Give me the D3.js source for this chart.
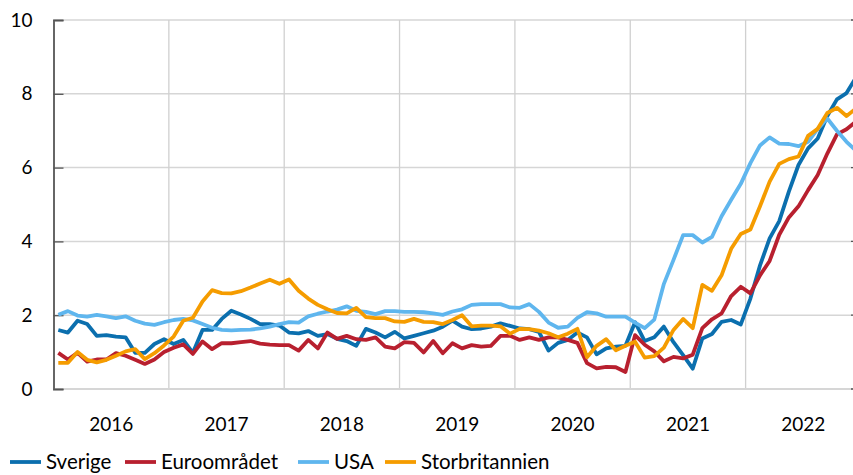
<!DOCTYPE html>
<html>
<head>
<meta charset="utf-8">
<script src="https://cdn.jsdelivr.net/npm/d3@7"></script>
<style>
  html, body { margin: 0; padding: 0; background: #fff; }
  svg { display: block; }
  text { font-family: Lato, "Open Sans", sans-serif; fill: #000; }
</style>
</head>
<body>
<svg id="chart" width="853" height="475"></svg>
<script>
// ---- data (monthly, Jan 2016 - Dec 2022) ----
const years = ["2016", "2017", "2018", "2019", "2020", "2021", "2022"];
const monthsPerYear = 12;
const months = [];
years.forEach(yr => { for (let m = 1; m <= monthsPerYear; m++) months.push(yr + "-" + String(m).padStart(2, "0")); });

const seriesNames = ["Sverige", "Euroområdet", "USA", "Storbritannien"];
const seriesColors = ["#0b6fae", "#b8202f", "#5fb6ee", "#f59c00"];

const sverige = [
  1.60, 1.53, 1.85, 1.76, 1.44, 1.46, 1.42, 1.40, 0.98, 0.98, 1.22, 1.35,
  1.22, 1.33, 0.98, 1.60, 1.60, 1.90, 2.12, 2.02, 1.90, 1.76, 1.76, 1.72,
  1.53, 1.51, 1.57, 1.44, 1.49, 1.36, 1.30, 1.17, 1.63, 1.53, 1.40, 1.55,
  1.37, 1.44, 1.51, 1.58, 1.69, 1.85, 1.69, 1.62, 1.64, 1.69, 1.78, 1.71,
  1.64, 1.62, 1.55, 1.04, 1.25, 1.33, 1.53, 1.40, 0.94, 1.10, 1.15, 1.17,
  1.81, 1.30, 1.40, 1.69, 1.27, 0.92, 0.55, 1.37, 1.49, 1.82, 1.87, 1.75,
  2.45, 3.35, 4.08, 4.55, 5.35, 6.07, 6.52, 6.79, 7.40, 7.85, 8.02, 8.45
];
const euroomradet = [
  0.98, 0.80, 0.98, 0.74, 0.80, 0.80, 0.97, 0.90, 0.79, 0.68, 0.80, 1.00,
  1.12, 1.21, 0.95, 1.29, 1.08, 1.24, 1.24, 1.27, 1.30, 1.23, 1.20, 1.19,
  1.19, 1.04, 1.33, 1.10, 1.53, 1.36, 1.44, 1.35, 1.33, 1.40, 1.15, 1.10,
  1.27, 1.25, 0.99, 1.30, 0.97, 1.24, 1.10, 1.19, 1.15, 1.17, 1.44, 1.44,
  1.33, 1.40, 1.33, 1.40, 1.40, 1.33, 1.25, 0.70, 0.56, 0.60, 0.59, 0.46,
  1.46, 1.20, 1.02, 0.75, 0.87, 0.83, 0.93, 1.65, 1.89, 2.05, 2.52, 2.77,
  2.59, 3.08, 3.47, 4.18, 4.65, 4.95, 5.39, 5.80, 6.38, 6.90, 7.04, 7.25
];
const usa = [
  2.01, 2.11, 1.99, 1.96, 2.01, 1.97, 1.92, 1.97, 1.85, 1.77, 1.74, 1.81,
  1.87, 1.90, 1.86, 1.76, 1.66, 1.60, 1.59, 1.60, 1.61, 1.64, 1.69, 1.76,
  1.81, 1.80, 1.97, 2.04, 2.10, 2.15, 2.24, 2.12, 2.09, 2.03, 2.11, 2.11,
  2.09, 2.09, 2.08, 2.05, 2.01, 2.10, 2.16, 2.28, 2.30, 2.30, 2.30, 2.21,
  2.20, 2.30, 2.09, 1.80, 1.66, 1.69, 1.93, 2.08, 2.05, 1.96, 1.96, 1.96,
  1.80, 1.65, 1.88, 2.85, 3.50, 4.17, 4.17, 3.97, 4.12, 4.68, 5.13, 5.56,
  6.12, 6.60, 6.82, 6.65, 6.64, 6.58, 6.70, 7.05, 7.33, 7.00, 6.70, 6.45
];
const storbritannien = [
  0.71, 0.71, 1.00, 0.79, 0.72, 0.79, 0.90, 1.02, 1.08, 0.81, 0.97, 1.18,
  1.42, 1.85, 1.93, 2.37, 2.68, 2.60, 2.59, 2.65, 2.75, 2.86, 2.96, 2.85,
  2.97, 2.66, 2.45, 2.28, 2.16, 2.06, 2.05, 2.20, 1.95, 1.92, 1.92, 1.83,
  1.82, 1.90, 1.82, 1.81, 1.76, 1.87, 2.00, 1.70, 1.72, 1.72, 1.70, 1.50,
  1.63, 1.62, 1.58, 1.51, 1.40, 1.50, 1.63, 0.86, 1.17, 1.35, 1.05, 1.17,
  1.28, 0.85, 0.89, 1.12, 1.60, 1.90, 1.65, 2.82, 2.66, 3.08, 3.80, 4.20,
  4.32, 4.95, 5.62, 6.10, 6.23, 6.30, 6.86, 7.05, 7.48, 7.62, 7.40, 7.60
];
const seriesValues = [sverige, euroomradet, usa, storbritannien];
const yTicks = [0, 2, 4, 6, 8, 10];

// ---- layout ----
const svg = d3.select("#chart");
const plotLeft = 53.5, plotTop = 20, plotBottom = 389;
const yearWidth = 115.35;
const plotRight = plotLeft + yearWidth * years.length;

const x = d3.scaleBand().domain(months).range([plotLeft, plotRight]).padding(0);
const y = d3.scaleLinear().domain([0, 10]).range([plotBottom, plotTop]);
const cx = m => x(m) + x.bandwidth() / 2;

// horizontal gridlines
svg.append("g").selectAll("line").data(yTicks.filter(t => t > 0)).join("line")
  .attr("x1", plotLeft).attr("x2", 853)
  .attr("y1", d => y(d)).attr("y2", d => y(d))
  .attr("stroke", "#d6d6d6").attr("stroke-width", 1.5);

// vertical gridlines at year starts
svg.append("g").selectAll("line").data(years.slice(1)).join("line")
  .attr("x1", d => x(d + "-01")).attr("x2", d => x(d + "-01"))
  .attr("y1", plotTop).attr("y2", plotBottom)
  .attr("stroke", "#d0d0d0").attr("stroke-width", 1.3);

// bottom axis line
svg.append("line").attr("x1", plotLeft).attr("x2", 853).attr("y1", plotBottom).attr("y2", plotBottom)
  .attr("stroke", "#d6d6d6").attr("stroke-width", 2);

// left axis
const yAxis = d3.axisRight(y).tickValues(yTicks).tickSize(10).tickFormat("");
const ya = svg.append("g").attr("transform", `translate(${plotLeft},0)`).call(yAxis);
ya.select(".domain").attr("stroke", "#666").attr("stroke-width", 2);
ya.selectAll(".tick line").attr("stroke", "#555").attr("stroke-width", 1.3);

// right-edge tick stubs
svg.append("g").selectAll("line").data(yTicks).join("line")
  .attr("x1", 851).attr("x2", 853).attr("y1", d => y(d)).attr("y2", d => y(d))
  .attr("stroke", "#555").attr("stroke-width", 1.3);

// y tick labels
svg.append("g").selectAll("text").data(yTicks).join("text")
  .attr("x", 32.5).attr("y", d => y(d)).attr("dy", "0.35em")
  .attr("text-anchor", "end").attr("font-size", 19).text(d => d);

// year labels
svg.append("g").selectAll("text").data(years).join("text")
  .attr("x", d => x(d + "-01") + yearWidth / 2).attr("y", 430.5)
  .attr("text-anchor", "middle").attr("font-size", 19).text(d => d);

// lines
const line = d3.line().x((d, i) => cx(months[i])).y(d => y(d));
svg.append("g").selectAll("path").data(seriesValues).join("path")
  .attr("d", d => line(d))
  .attr("fill", "none")
  .attr("stroke", (d, i) => seriesColors[i])
  .attr("stroke-width", 3.8)
  .attr("stroke-linejoin", "round")
  .attr("stroke-linecap", "butt");

// legend
const legendX = [10, 125, 298, 385];
const lg = svg.append("g").selectAll("g").data(seriesNames).join("g")
  .attr("transform", (d, i) => `translate(${legendX[i]},462)`);
lg.append("line").attr("x1", 0).attr("x2", 31).attr("y1", 0).attr("y2", 0)
  .attr("stroke", (d, i) => seriesColors[i]).attr("stroke-width", 3.8);
lg.append("text").attr("x", 36).attr("y", 0).attr("dy", "0.34em")
  .attr("font-size", 20.5).text(d => d);
</script>
</body>
</html>
